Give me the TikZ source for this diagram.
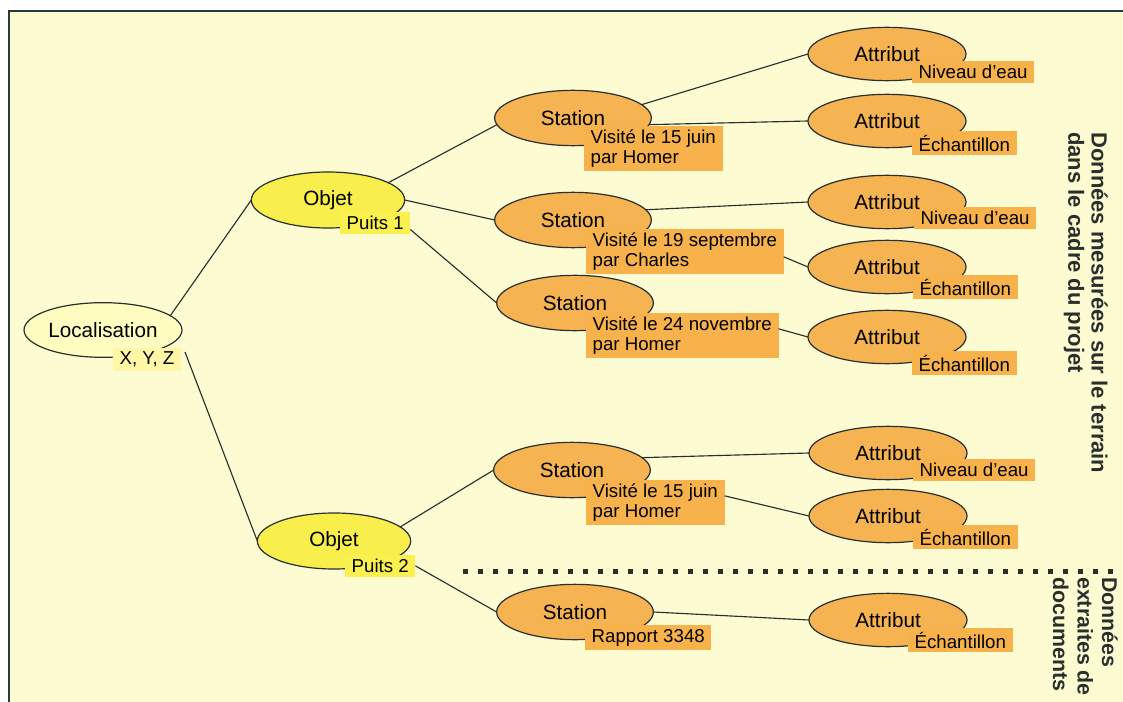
\documentclass[tikz,border=0pt]{standalone}
\usepackage{fontspec}
\setmainfont{Liberation Sans}
\usetikzlibrary{shapes.geometric}
\definecolor{bg}{HTML}{FDFBD2}
\definecolor{orangefill}{HTML}{F5B352}
\definecolor{orangelab}{HTML}{F7B24C}
\definecolor{objfill}{HTML}{F8EE4C}
\definecolor{objlab}{HTML}{FAF150}
\definecolor{locfill}{HTML}{FFFDC0}
\definecolor{loclab}{HTML}{FFF6A6}
\definecolor{ink}{HTML}{2A2F2C}
\begin{document}
\begin{tikzpicture}[x=0.75pt,y=-0.75pt,
  ell/.style={ellipse, draw=ink, line width=0.9pt, inner sep=0pt, outer sep=0pt},
  locst/.style={ell, fill=locfill, minimum width=118.5pt, minimum height=41pt},
  objst/.style={ell, fill=objfill, minimum width=115pt, minimum height=42pt},
  sta/.style={ell, fill=orangefill, minimum width=117.5pt, minimum height=41.5pt},
  att/.style={ell, fill=orangefill, minimum width=118.5pt, minimum height=40pt},
  elltext/.style={inner sep=0pt, text=black, font=\fontsize{15.5}{18}\selectfont},
  lab/.style={anchor=north west, fill=orangelab, inner xsep=5pt, inner ysep=3pt, outer sep=0pt, align=left, font=\fontsize{14}{14.5}\selectfont},
  link/.style={draw=ink, line width=0.85pt},
  side/.style={rotate=-90, anchor=north west, inner sep=0pt, align=left, text=ink}
]
\useasboundingbox (0,0) rectangle (1123,702);
\fill[white] (0,0) rectangle (1123,702);
\fill[bg] (9,11) rectangle (1123,702);
\draw[ink!85!teal, line width=1.2pt] (9,702) -- (9,11) -- (1123,11);

% ellipses
\node[locst] (loc) at (103,330) {};
\node[objst] (obj1) at (328,200) {};
\node[objst] (obj2) at (334,541) {};
\node[sta] (st1) at (573,118) {};
\node[sta] (st2) at (573,220) {};
\node[sta] (st3) at (575,303) {};
\node[sta] (st4) at (572,470) {};
\node[sta] (st5) at (575,612) {};
\node[att] (a1) at (887,54) {};
\node[att] (a2) at (887,121) {};
\node[att] (a3) at (887,202) {};
\node[att] (a4) at (887,267) {};
\node[att] (a5) at (887,337) {};
\node[att] (a6) at (888,453) {};
\node[att] (a7) at (888,516) {};
\node[att] (a8) at (888,620) {};

% labels
\node[lab, fill=loclab] (xyz) at (113,348) {X, Y, Z};
\node[lab, fill=objlab] (p1) at (340,212) {Puits 1};
\node[lab, fill=objlab] (p2) at (345,555) {Puits 2};
\node[lab] (l1) at (584,126) {Visité le 15 juin\\par Homer};
\node[lab] (l2) at (586,229) {Visité le 19 septembre\\par Charles};
\node[lab] (l3) at (586,313) {Visité le 24 novembre\\par Homer};
\node[lab] (l4) at (586,480) {Visité le 15 juin\\par Homer};
\node[lab] (l5) at (585,625) {Rapport 3348};
\node[lab] (n1) at (912,61) {Niveau d’eau};
\node[lab] (e2) at (912,131) {Échantillon};
\node[lab] (n3) at (914,207) {Niveau d’eau};
\node[lab] (e4) at (913,275) {Échantillon};
\node[lab] (e5) at (912,351) {Échantillon};
\node[lab] (n6) at (913,459) {Niveau d’eau};
\node[lab] (e7) at (913,525) {Échantillon};
\node[lab] (e8) at (908,628) {Échantillon};

% ellipse titles on top
\node[elltext] (tloc) at (loc) {Localisation};
\node[elltext] (tobj1) at (obj1) {Objet};
\node[elltext] (tobj2) at (obj2) {Objet};
\foreach \s in {st1,st2,st3,st4,st5} \node[elltext] (t\s) at (\s) {Station};
\foreach \s in {a1,a2,a3,a4,a5,a6,a7,a8} \node[elltext] (t\s) at (\s) {Attribut};

% connectors
\draw[link] (loc.12) -- (obj1.west);
\draw[link] ([xshift=3pt,yshift=-3pt]xyz.north east) -- (obj2.west);
\draw[link] (obj1.16) -- (st1.185);
\draw[link] (obj1.east) -- (st2.west);
\draw[link] ([yshift=-5pt]p1.east) -- (st3.west);
\draw[link] (obj2.12) -- (st4.west);
\draw[link] (p2.east) -- (st5.west);
\draw[link] (st1.11) -- (a1.west);
\draw[link] (st1.-5) -- (a2.west);
\draw[link] (st2.8) -- (a3.west);
\draw[link] ([yshift=-4pt]l2.east) -- (a4.west);
\draw[link] ([yshift=5pt]l3.east) -- (a5.west);
\draw[link] (st4.10) -- (a6.west);
\draw[link] ([yshift=5pt]l4.east) -- (a7.west);
\draw[link] (st5.east) -- (a8.west);

% separator
\coordinate (dotL) at (463,571);
\coordinate (dotR) at (1121,571);
\draw[ink, line width=3.75pt, dash pattern=on 3.75pt off 7.5pt] (dotL) -- (dotR);

% side texts
\node[side, font=\bfseries\fontsize{16.5}{17.5}\selectfont] (t1) at (1108,132) {Données mesurées sur le terrain\\dans le cadre du projet};
\node[side, font=\bfseries\fontsize{16}{18.4}\selectfont] (t2) at (1118,577) {Données\\extraites de\\documents};
\end{tikzpicture}
\end{document}
